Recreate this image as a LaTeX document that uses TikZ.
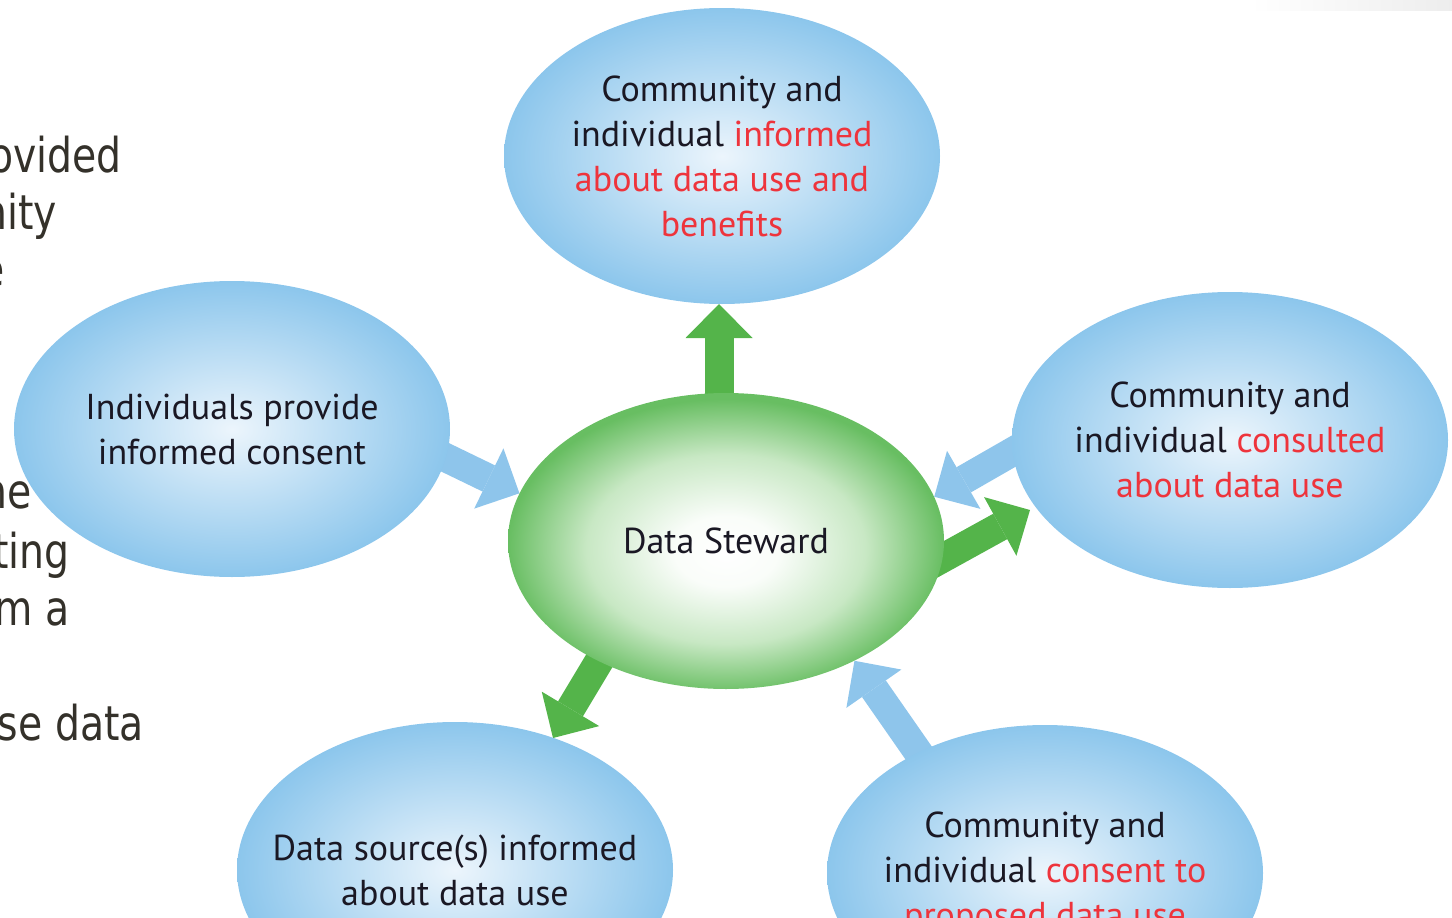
\documentclass[tikz,border=0pt]{standalone}
\usepackage{fontspec}
\setmainfont{PT Sans}
\newfontfamily\sidefont{DejaVu Sans}
\usetikzlibrary{shapes.geometric,arrows.meta,backgrounds}

\definecolor{bubblein}{RGB}{236,245,252}
\definecolor{bubbleout}{RGB}{140,198,236}
\definecolor{stewardout}{RGB}{104,190,98}
\definecolor{stewardmid}{RGB}{200,232,196}
\definecolor{arrowgreen}{RGB}{84,180,74}
\definecolor{arrowblue}{RGB}{142,197,235}
\definecolor{inktext}{RGB}{26,24,36}
\definecolor{warmtext}{RGB}{238,52,60}
\definecolor{sidetext}{RGB}{52,49,42}

\newcommand{\warm}[1]{\textcolor{warmtext}{#1}}

% pale middle, green only near the rim
\pgfdeclareradialshading{stewardshade}{\pgfpoint{0bp}{-2bp}}{%
  color(0bp)=(white); color(6bp)=(white!90!stewardmid);
  color(16bp)=(stewardmid); color(25bp)=(stewardout); color(50bp)=(stewardout)}

\tikzset{
  bubble/.style={ellipse, minimum width=436pt, minimum height=296pt, inner sep=-90pt,
    shading=radial, inner color=bubblein, outer color=bubbleout,
    align=center, text=inktext, font=\fontsize{36}{45}\selectfont},
  stewardbubble/.style={bubble, shading=stewardshade},
  outarrow/.style={draw=arrowgreen, line width=29pt,
    -{Triangle[length=34pt,width=67pt,line width=0pt]}},
  inarrow/.style={outarrow, draw=arrowblue},
  sideline/.style={anchor=base east, inner sep=0pt, text=sidetext,
    font=\sidefont\fontsize{48}{57}\selectfont, xscale=0.82, transform shape}
}

\begin{document}
\begin{tikzpicture}[x=1pt, y=-1pt]
    \useasboundingbox (0,0) rectangle (1452,918);
    \clip (0,0) rectangle (1452,918);

    % faded corner of the slide
    \fill[left color=white, right color=black!7] (1250,0) rectangle (1452,10);

    % slide text running in from the left
    \node[sideline] (s1) at (122,172) {ovided};
    \node[sideline] (s2) at (57,229) {nity};
    \node[sideline] (s3) at (5,286) {e};
    \node[sideline] (s4) at (32,508) {he};
    \node[sideline] (s5) at (70,568) {ting};
    \node[sideline] (s6) at (70,625) {m a};
    \node[sideline] (s7) at (144,740) {se data};

    % the bubbles
    \node[stewardbubble] (steward) at (726,541) {Data Steward};
    \node[bubble] (informed) at (722,156)
      {Community and\\ individual \warm{informed}\\ \warm{about data use and}\\ \warm{benefits}};
    \node[bubble] (consent) at (232,429) {Individuals provide\\ informed consent};
    \node[bubble] (consulted) at (1230,440)
      {Community and\\ individual \warm{consulted}\\ \warm{about data use}};
    \node[bubble] (source) at (455,870) {Data source(s) informed\\ about data use};
    \node[bubble] (agreed) at (1045,873)
      {Community and\\ individual \warm{consent to}\\ \warm{proposed data use}};

    \coordinate (tailup) at (719,420);
    \coordinate (tipup) at (719,304);
    \coordinate (taileast) at (914,574);
    \coordinate (tipeast) at (1030,510);
    \coordinate (tailsw) at (625,618);
    \coordinate (tipsw) at (553,738);
    \coordinate (tailwest) at (430,450);
    \coordinate (tailne) at (1040,436);
    \coordinate (tailse) at (934,775);

    % arrows sit behind the bubbles
    \begin{pgfonlayer}{background}
      \draw[outarrow] (tailup) -- (tipup);
      \draw[outarrow] (taileast) -- (tipeast);
      \draw[outarrow] (tailsw) -- (tipsw);
      \draw[inarrow] (tailwest) -- (steward.167);
      \draw[inarrow] (tailne) -- (steward.12);
      \draw[inarrow] (tailse) -- (steward.-43);
    \end{pgfonlayer}
\end{tikzpicture}
\end{document}
